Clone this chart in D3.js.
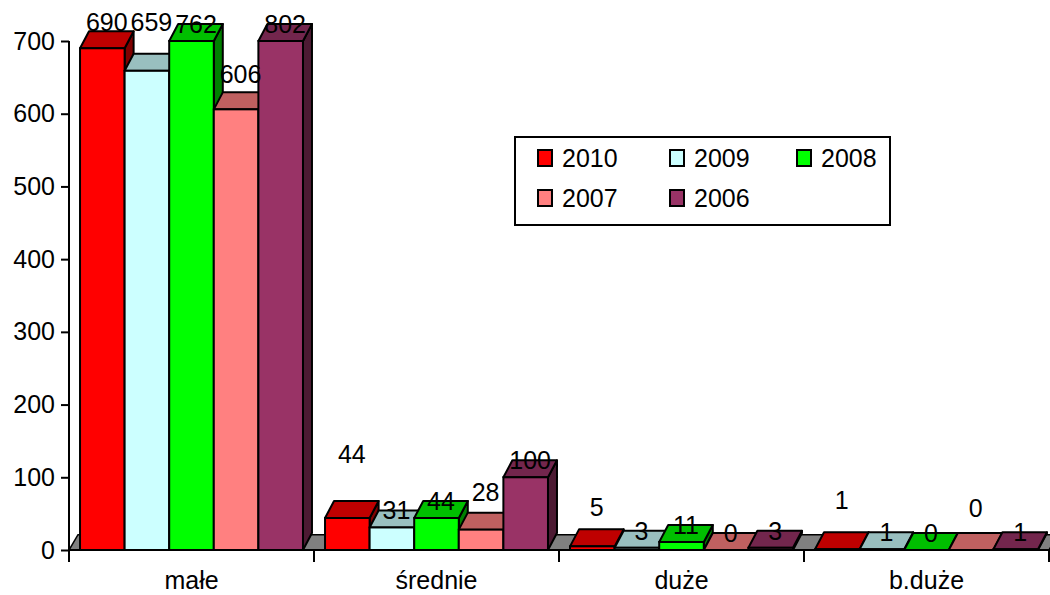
<!DOCTYPE html>
<html>
<head>
<meta charset="utf-8">
<script src="https://cdn.jsdelivr.net/npm/d3@7"></script>
<style>
  body { margin: 0; background: #fff; }
  svg text { font-family: "Liberation Sans", Arial, sans-serif; fill: #000; }
</style>
</head>
<body>
<div id="chart"></div>
<script>
// data
var categories = ["małe", "średnie", "duże", "b.duże"];
var seriesNames = ["2010", "2009", "2008", "2007", "2006"];
var values2010 = [690, 44, 5, 1];
var values2009 = [659, 31, 3, 1];
var values2008 = [762, 44, 11, 0];
var values2007 = [606, 28, 0, 0];
var values2006 = [802, 100, 3, 1];
var yTicks = [0, 100, 200, 300, 400, 500, 600, 700];

// styling
var colors = ["#ff0000", "#ccffff", "#00ff00", "#ff8080", "#993366"];
// extra lift of value labels (Excel moved some to avoid overlap)
var labelLift = [
  [9, 32, 0, 18, 0],
  [47, 0, 0, 20, 0],
  [22, 0, 0, 0, 0],
  [32, 0, 0, 25, 0]
];

var W = 1050, H = 595;
var depthX = 9, depthY = -17;
var fontSize = 25;

var allValues = [values2010, values2009, values2008, values2007, values2006];

var svg = d3.select("#chart").append("svg")
  .attr("width", W).attr("height", H);

var x0 = d3.scaleBand().domain(categories)
  .range([69, 1049]).paddingInner(0.09).paddingOuter(0.045);
var x1 = d3.scaleBand().domain(seriesNames).range([0, x0.bandwidth()]);
var y = d3.scaleLinear().domain([0, 700]).range([550, 41]);

function shade(c, k) {
  var r = d3.rgb(c);
  return d3.rgb(r.r * k, r.g * k, r.b * k).formatHex();
}

// floor
var fy = y(0);
svg.append("path")
  .attr("d", "M69," + fy + "L1049," + fy + "L" + (1049 + depthX) + "," + (fy + depthY * 0.9) +
    "L" + (69 + depthX) + "," + (fy + depthY * 0.9) + "Z")
  .attr("fill", "#808080").attr("stroke", "#000").attr("stroke-width", 1.5);

// bars
var bars = svg.append("g");
categories.forEach(function(cat, ci) {
  seriesNames.forEach(function(s, si) {
    var v = Math.min(allValues[si][ci], 700);
    var xl = x0(cat) + x1(s), xr = xl + x1.bandwidth();
    var yt = y(v), yb = y(0);
    var c = colors[si];
    // side
    bars.append("path")
      .attr("d", "M" + xr + "," + yb + "L" + xr + "," + yt + "L" + (xr + depthX) + "," + (yt + depthY) +
        "L" + (xr + depthX) + "," + (yb + depthY) + "Z")
      .attr("fill", shade(c, 0.5)).attr("stroke", "#000").attr("stroke-width", 2)
      .attr("stroke-linejoin", "round");
    // top
    bars.append("path")
      .attr("d", "M" + xl + "," + yt + "L" + (xl + depthX) + "," + (yt + depthY) + "L" + (xr + depthX) + "," + (yt + depthY) +
        "L" + xr + "," + yt + "Z")
      .attr("fill", shade(c, 0.75)).attr("stroke", "#000").attr("stroke-width", 2)
      .attr("stroke-linejoin", "round");
    // front
    bars.append("rect")
      .attr("x", xl).attr("y", yt)
      .attr("width", xr - xl).attr("height", yb - yt)
      .attr("fill", c).attr("stroke", "#000").attr("stroke-width", 2);
  });
});

// x axis line and category ticks
svg.append("line")
  .attr("x1", 69).attr("x2", 1049).attr("y1", y(0)).attr("y2", y(0))
  .attr("stroke", "#000").attr("stroke-width", 2);
var bounds = categories.map(function(c) { return x0(c) - x0.step() * x0.paddingOuter(); });
bounds.push(1049);
svg.selectAll(".ctick").data(bounds).enter().append("line")
  .attr("x1", function(d) { return d; }).attr("x2", function(d) { return d; })
  .attr("y1", y(0)).attr("y2", y(0) + 12)
  .attr("stroke", "#000").attr("stroke-width", 2);
svg.selectAll(".clab").data(categories).enter().append("text")
  .attr("x", function(d) { return x0(d) + x0.bandwidth() / 2; })
  .attr("y", 589)
  .attr("text-anchor", "middle")
  .style("font-size", fontSize + "px")
  .text(function(d) { return d; });

// y axis
var yAxis = svg.append("g")
  .attr("transform", "translate(69,0)")
  .call(d3.axisLeft(y).tickValues(yTicks).tickSize(8).tickPadding(6).tickFormat(d3.format("d")));
yAxis.select(".domain").attr("stroke-width", 2).attr("d", "M0,41V" + (y(0) + 12));
yAxis.selectAll(".tick line").attr("stroke-width", 2);
yAxis.selectAll(".tick text")
  .style("font-size", fontSize + "px")
  .style("font-family", "'Liberation Sans', Arial, sans-serif")
  .attr("fill", "#000");

// value labels
var labels = svg.append("g");
categories.forEach(function(cat, ci) {
  seriesNames.forEach(function(s, si) {
    var raw = allValues[si][ci];
    var v = Math.min(raw, 700);
    var cx = x0(cat) + x1(s) + x1.bandwidth() / 2 + depthX / 2;
    var cy = Math.max(22, y(v) + depthY - labelLift[ci][si]);
    labels.append("text")
      .attr("x", cx).attr("y", cy)
      .attr("dy", "0.35em")
      .attr("text-anchor", "middle")
      .style("font-size", fontSize + "px")
      .text(raw);
  });
});

// legend
var lg = svg.append("g");
lg.append("rect")
  .attr("x", 515).attr("y", 137).attr("width", 375).attr("height", 88)
  .attr("fill", "#fff").attr("stroke", "#000").attr("stroke-width", 2);
var colX = [538, 670, 797];
seriesNames.forEach(function(s, i) {
  var cx = colX[i % 3], cy = i < 3 ? 158 : 198;
  lg.append("rect")
    .attr("x", cx).attr("y", cy - 8).attr("width", 14).attr("height", 16)
    .attr("fill", colors[i]).attr("stroke", "#000").attr("stroke-width", 2);
  lg.append("text")
    .attr("x", cx + 24).attr("y", cy).attr("dy", "0.35em")
    .style("font-size", fontSize + "px")
    .text(s);
});
</script>
</body>
</html>
